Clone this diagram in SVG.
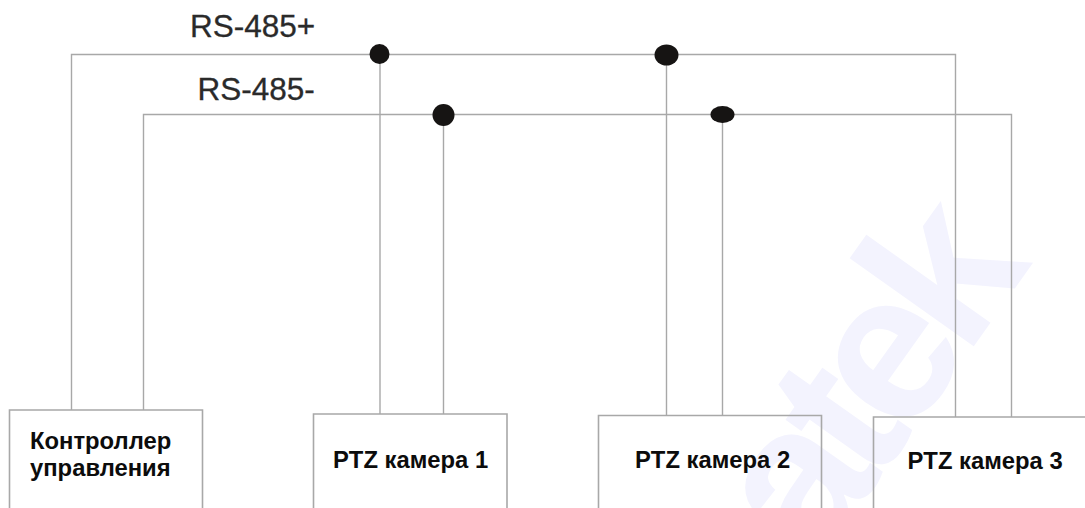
<svg xmlns="http://www.w3.org/2000/svg" width="1085" height="508" viewBox="0 0 1085 508">
<style>
.w{fill:none;stroke:#a8a8a8;stroke-width:1.4}
.b{fill:none;stroke:#a8a8a8;stroke-width:1.6}
.d{fill:#161413}
.l{font-family:"Liberation Sans",Arial,sans-serif;font-size:31.5px;fill:#2a2a2a;stroke:#2a2a2a;stroke-width:.3}
.t{font-family:"Liberation Sans",Arial,sans-serif;font-size:23.8px;font-weight:bold;fill:#0c0c0c}
.m{font-family:"Liberation Sans",Arial,sans-serif;font-size:210px;font-weight:bold;letter-spacing:-15px;fill:#f3f3fe}
</style>
<rect width="1085" height="508" fill="#fff"/>
<text class="m" transform="translate(815.500 569) rotate(-54.6)">atek</text>
<g id="connectors">
<path class="w" d="M71.500 410V54.500H955.500V417"/>
<path class="w" d="M143.500 410V114.500H1011.500V417"/>
<path class="w" d="M380 55V414M443.500 115V414M666.500 55V415M722.500 115V415"/>
<ellipse class="d" cx="379.500" cy="54" rx="10" ry="10"/>
<ellipse class="d" cx="443.500" cy="115" rx="11" ry="11"/>
<ellipse class="d" cx="666.500" cy="55" rx="12" ry="10.500"/>
<ellipse class="d" cx="722.500" cy="114.500" rx="12" ry="8.500"/>
</g>
<g id="label-plus"><text class="l" x="190" y="36.500">RS-485+</text></g>
<g id="label-minus"><text class="l" x="197.500" y="99.500">RS-485-</text></g>
<g id="controller">
<path class="b" d="M9.500 508V410H202.500V508"/>
<text class="t" x="30" y="449">Контроллер</text>
<text class="t" x="30" y="476">управления</text>
</g>
<g id="camera1">
<path class="b" d="M313.500 508V414H507V508"/>
<text class="t" x="333" y="468">PTZ камера 1</text>
</g>
<g id="camera2">
<path class="b" d="M598.500 508V415.500H821.500V508"/>
<text class="t" x="635" y="468">PTZ камера 2</text>
</g>
<g id="camera3">
<path class="b" d="M873.500 508V417H1085"/>
<text class="t" x="907.500" y="468.500">PTZ камера 3</text>
</g>
</svg>
